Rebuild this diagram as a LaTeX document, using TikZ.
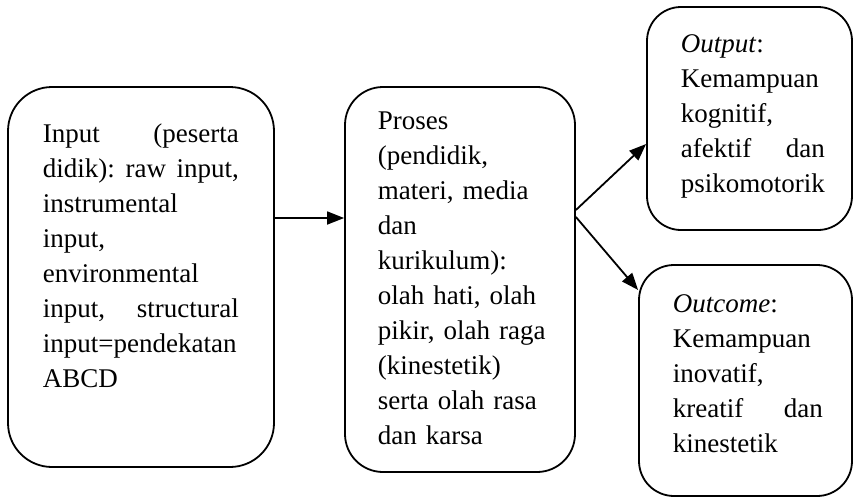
\documentclass[tikz,border=0pt]{standalone}
\usepackage{fontspec}
\setmainfont{Liberation Serif}
\usetikzlibrary{arrows.meta}
\newcommand{\gap}{\hspace{0pt plus 1filll}}
\begin{document}
\begin{tikzpicture}[x=1pt, y=-1pt, ->, >={Triangle[length=17pt,width=13pt]}, line width=1.8pt,
  box/.style={draw, rectangle, inner sep=0pt},
  txt/.style={anchor=north west, inner sep=0pt, align=left, font=\fontsize{27}{35}\selectfont}]
\useasboundingbox (0,0) rectangle (855,498);


\node[box, rounded corners=44pt, minimum width=266pt, minimum height=380pt] at (141,277) (in) {};
\node[box, rounded corners=38pt, minimum width=230pt, minimum height=385pt] at (460,279.5) (proc) {};
\node[box, rounded corners=34pt, minimum width=205pt, minimum height=223pt] at (749.5,118.5) (out) {};
\node[box, rounded corners=35pt, minimum width=213pt, minimum height=231pt] at (745.5,380.5) (outc) {};


\node[txt, text width=196pt] at (42,117.5) (inText) {\strut Input\gap(peserta\\
  didik):\gap raw\gap input,\\ instrumental\\ input,\\ environmental\\
  input,\gap structural\\ input=pendekatan\\ ABCD};

\node[txt, text width=175pt] at (377,104.5) (procText) {\strut Proses\\ (pendidik,\\ materi, media\\ dan\\
  kurikulum):\\ olah hati, olah\\ pikir, olah raga\\ (kinestetik)\\ serta olah rasa\\ dan karsa};

\node[txt, text width=144pt] at (680,27.5) (outText) {\strut\textit{Output}:\\ Kemampuan\\ kognitif,\\
  afektif\gap dan\\ psikomotorik};

\node[txt, text width=150pt] at (672,287.5) (outcText) {\strut\textit{Outcome}:\\ Kemampuan\\ inovatif,\\
  kreatif\gap dan\\ kinestetik};

\path ([yshift=59pt]in.east) edge ([yshift=61.5pt]proc.west);
\path ([yshift=69.5pt]proc.east) edge ([yshift=-25.5pt]out.west);
\path ([yshift=62.5pt]proc.east) edge ([yshift=90.5pt]outc.west);

\end{tikzpicture}
\end{document}
